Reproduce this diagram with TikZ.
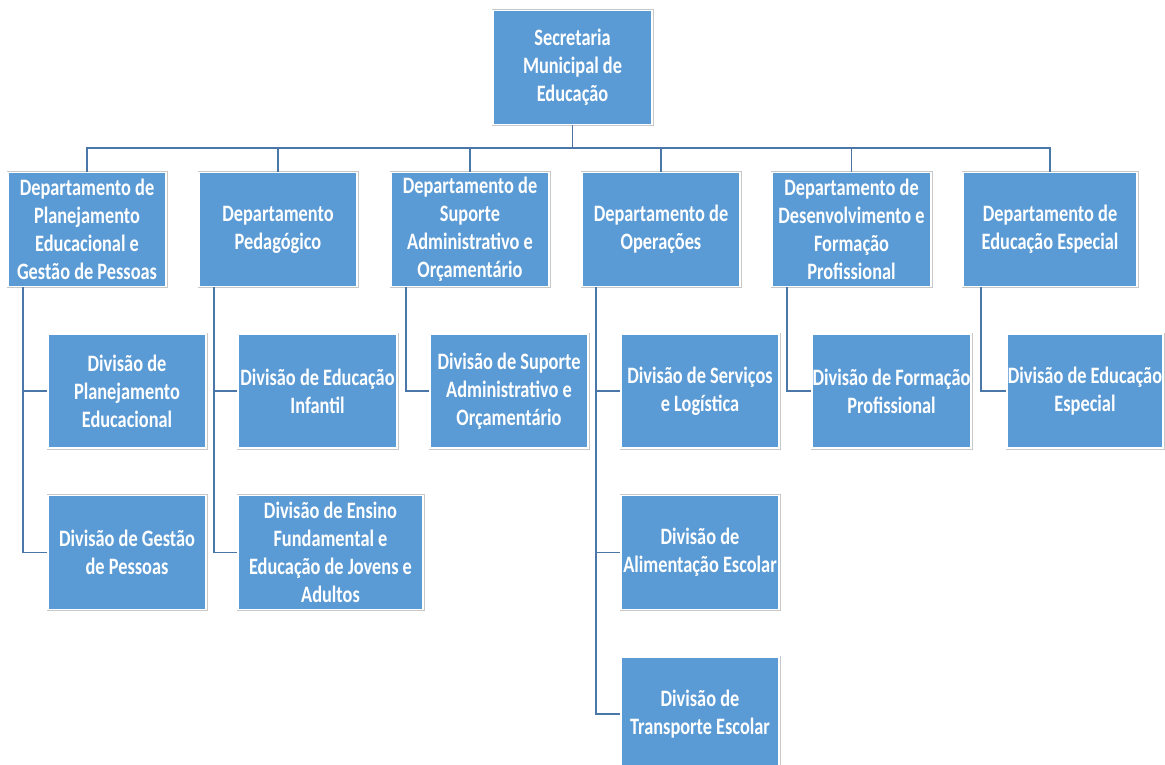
\documentclass[tikz,border=0pt]{standalone}
\usepackage{fontspec}
\setmainfont{Carlito}[FakeStretch=0.78]
\usetikzlibrary{calc}
\definecolor{boxblue}{RGB}{91,155,213}
\definecolor{edgegray}{RGB}{200,200,200}
\definecolor{linkblue}{RGB}{74,118,168}
\tikzset{
  unit/.style={rectangle, fill=boxblue, draw=white, line width=1.4pt,
    preaction={draw=edgegray, line width=3pt},
    text=white, align=center, inner sep=0pt,
    font=\fontsize{23.5}{28}\selectfont\bfseries,
    minimum width=158pt, minimum height=114pt},
  link/.style={draw=linkblue, line width=1.8pt}
}
\begin{document}
\begin{tikzpicture}[x=1pt,y=-1pt]
\useasboundingbox (0,0) rectangle (1165,765);
\clip (0,0) rectangle (1165,765);
\fill[white] (0,0) rectangle (1165,765);
\coordinate (bus) at (0,148);

% connectors
\begin{scope}[link]
\draw (572.5,125) -- (572.5,148);
\end{scope}

% top
\node[unit, minimum width=159pt] (top) at (572.5,67.5) {Secretaria\\Municipal de\\Educação};

% departments
\node[unit] (d1) at (87,229.5) {Departamento de\\Planejamento\\Educacional e\\Gestão de Pessoas};
\node[unit] (d2) at (278,229.5) {Departamento\\Pedagógico};
\node[unit] (d3) at (470,229.5) {Departamento de\\Suporte\\Administrativo e\\Orçamentário};
\node[unit] (d4) at (661,229.5) {Departamento de\\Operações};
\node[unit, minimum width=159pt] (d5) at (851.5,229.5) {Departamento de\\Desenvolvimento e\\Formação\\Profissional};
\node[unit, minimum width=174pt] (d6) at (1050,229.5) {Departamento de\\Educação Especial};

% divisions
\node[unit] (c1a) at (127,391) {Divisão de\\Planejamento\\Educacional};
\node[unit] (c1b) at (127,552.5) {Divisão de Gestão\\de Pessoas};
\node[unit, minimum width=159pt] (c2a) at (317.5,391) {Divisão de Educação\\Infantil};
\node[unit, minimum width=185pt] (c2b) at (330.5,552.5) {Divisão de Ensino\\Fundamental e\\Educação de Jovens e\\Adultos};
\node[unit] (c3a) at (509,391) {Divisão de Suporte\\Administrativo e\\Orçamentário};
\node[unit] (c4a) at (700,391) {Divisão de Serviços\\e Logística};
\node[unit] (c4b) at (700,552.5) {Divisão de\\Alimentação Escolar};
\node[unit] (c4c) at (700,714) {Divisão de\\Transporte Escolar};
\node[unit, minimum width=159pt] (c5a) at (891.5,391) {Divisão de Formação\\Profissional};
\node[unit, minimum width=156pt] (c6a) at (1085,391) {Divisão de Educação\\Especial};

% links from the secretariat to the departments
\begin{scope}[link]
\draw (top.south) |- (d1.north |- bus) -- (d1.north);
\draw (top.south) |- (d6.north |- bus) -- (d6.north);
\foreach \d in {d2,d3,d4,d5}
  \draw (\d.north |- bus) -- (\d.north);

% links from departments to divisions
\draw ([xshift=16pt]d1.south west) |- (c1a.west);
\draw ([xshift=16pt]d1.south west) |- (c1b.west);
\draw ([xshift=16pt]d2.south west) |- (c2a.west);
\draw ([xshift=16pt]d2.south west) |- (c2b.west);
\draw ([xshift=16pt]d3.south west) |- (c3a.west);
\draw ([xshift=15pt]d4.south west) |- (c4a.west);
\draw ([xshift=15pt]d4.south west) |- (c4b.west);
\draw ([xshift=15pt]d4.south west) |- (c4c.west);
\draw ([xshift=16pt]d5.south west) |- (c5a.west);
\draw ([xshift=19pt]d6.south west) |- (c6a.west);
\end{scope}
\end{tikzpicture}
\end{document}
